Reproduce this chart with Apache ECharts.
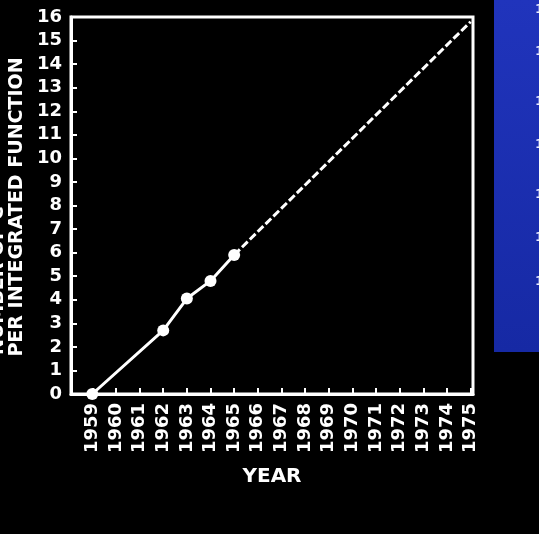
<!DOCTYPE html>
<html>
<head>
<meta charset="utf-8">
<script src="https://cdn.jsdelivr.net/npm/echarts@6/dist/echarts.min.js"></script>
<style>
  html, body { margin: 0; padding: 0; background: #000; }
  #chart { width: 539px; height: 534px; }
</style>
</head>
<body>
<div id="chart"></div>
<script>
// years on the x axis
const years = [1959, 1960, 1961, 1962, 1963, 1964, 1965, 1966, 1967, 1968, 1969, 1970, 1971, 1972, 1973, 1974, 1975]
// measured points (log2 of components)
const measuredYears = [1959, 1962, 1963, 1964, 1965]
const measuredLog2 = [0, 2.7, 4.05, 4.8, 5.9]
// extrapolation
const trendYears = [1965, 1975]
const trendLog2 = [5.9, 15.8]

const yTicks = [0, 1, 2, 3, 4, 5, 6, 7, 8, 9, 10, 11, 12, 13, 14, 15, 16]

const FONT = 'DejaVu Sans'
const white = '#fff'

const chart = echarts.init(document.getElementById('chart'))

const option = {
  backgroundColor: '#000',
  animation: false,
  grid: {
    left: 71, right: 66, top: 17, bottom: 140,
    show: true, borderColor: white, borderWidth: 3,
    backgroundColor: 'transparent'
  },
  xAxis: {
    type: 'value',
    min: 1958.1,
    max: 1975.1,
    axisLine: { show: true, lineStyle: { color: white, width: 3 } },
    splitLine: { show: false },
    axisTick: {
      show: true, inside: true, length: 6,
      customValues: years,
      lineStyle: { color: white, width: 2 }
    },
    axisLabel: {
      customValues: years,
      rotate: 90,
      margin: 9,
      color: white,
      fontFamily: FONT,
      fontWeight: 'bold',
      fontSize: 18,
      formatter: v => String(v)
    },
    name: 'YEAR',
    nameLocation: 'middle',
    nameGap: 73,
    nameTextStyle: { color: white, fontFamily: FONT, fontWeight: 'bold', fontSize: 20 }
  },
  yAxis: {
    type: 'value',
    min: 0,
    max: 16,
    interval: 1,
    axisLine: { show: true, lineStyle: { color: white, width: 3 } },
    splitLine: { show: false },
    axisTick: { show: true, inside: true, length: 6, lineStyle: { color: white, width: 2 } },
    axisLabel: {
      color: white,
      fontFamily: FONT,
      fontWeight: 'bold',
      fontSize: 18,
      margin: 9,
      customValues: yTicks
    }
  },
  graphic: [
    // blue slide panel on the right
    {
      type: 'rect',
      shape: { x: 494, y: 0, width: 45, height: 352 },
      style: {
        fill: new echarts.graphic.LinearGradient(0, 0, 0, 1, [
          { offset: 0, color: '#2034bc' },
          { offset: 1, color: '#1629a4' }
        ])
      }
    },
    ...[3, 45, 95, 138, 188, 231, 275].map(y => ({
      type: 'text',
      left: 535, top: y,
      style: { text: '1', fill: '#e8ecff', font: 'bold 13px ' + FONT }
    })),
    // y axis title, two rotated lines
    {
      type: 'text',
      x: 17, y: 207,
      rotation: Math.PI / 2,
      style: {
        text: 'PER INTEGRATED FUNCTION',
        fill: white,
        font: 'bold 19px ' + FONT,
        align: 'center',
        verticalAlign: 'middle'
      }
    },
    {
      type: 'text',
      x: -2, y: 355,
      rotation: Math.PI / 2,
      style: {
        text: 'NUMBER OF C',
        fill: white,
        font: 'bold 19px ' + FONT,
        align: 'left',
        verticalAlign: 'middle'
      }
    }
  ],
  series: [
    {
      type: 'line',
      data: measuredYears.map((y, i) => [y, measuredLog2[i]]),
      symbol: 'circle',
      symbolSize: 12,
      itemStyle: { color: white },
      lineStyle: { color: white, width: 3 },
      z: 3
    },
    {
      type: 'line',
      data: trendYears.map((y, i) => [y, trendLog2[i]]),
      symbol: 'none',
      lineStyle: { color: white, width: 3, type: [8, 3] },
      z: 2
    }
  ]
}

chart.setOption(option)
</script>
</body>
</html>
